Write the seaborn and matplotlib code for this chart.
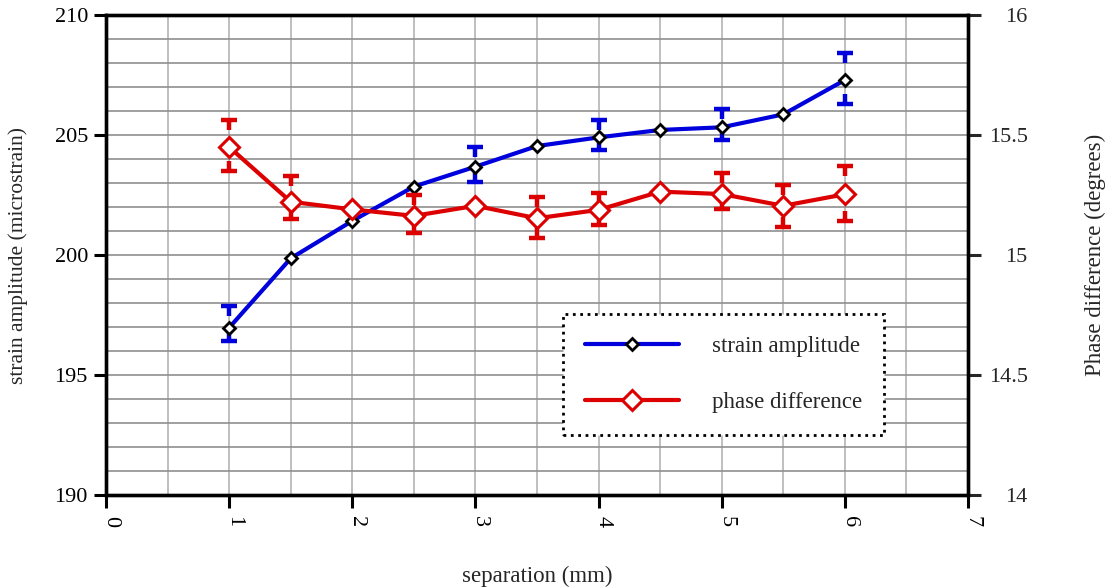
import numpy as np
import pandas as pd
import matplotlib
matplotlib.use("Agg")
import matplotlib.pyplot as plt
import seaborn as sns
from matplotlib.path import Path
from matplotlib.ticker import MultipleLocator, FuncFormatter

nan = np.nan
# ---- data ----
separation = [1.0, 1.5, 2.0, 2.5, 3.0, 3.5, 4.0, 4.5, 5.0, 5.5, 6.0]
strain = [196.97, 199.86, 201.42, 202.85, 203.68, 204.54, 204.90, 205.21, 205.32, 205.86, 207.29]
strain_upper = [197.86, nan, nan, nan, 204.49, nan, 205.63, nan, 206.07, nan, 208.40]
strain_lower = [196.43, nan, nan, nan, 203.05, nan, 204.38, nan, 204.79, nan, 206.28]
phase = [15.45, 15.222, 15.19, 15.163, 15.205, 15.153, 15.188, 15.264, 15.254, 15.205, 15.253]
phase_upper = [15.5625, 15.33, nan, 15.25, nan, 15.24, 15.26, nan, 15.34, 15.29, 15.37]
phase_lower = [15.35, 15.15, nan, 15.09, nan, 15.07, 15.125, nan, 15.19, 15.115, 15.14]
x_ticks = [0, 1, 2, 3, 4, 5, 6, 7]
left_ticks = [190, 195, 200, 205, 210]
right_ticks = [14, 14.5, 15, 15.5, 16]

df = pd.DataFrame({"separation": separation, "strain": strain, "phase": phase})

sns.set_theme(style="white")
plt.rcParams["font.family"] = ["Liberation Serif", "DejaVu Serif"]

BLUE = "#0000DD"
RED = "#DD0000"

fig = plt.figure(figsize=(11.14, 5.87), dpi=100)
ax = fig.add_axes([106 / 1114, 92 / 587, 862 / 1114, 480 / 587])
ax2 = ax.twinx()

ax.set_xlim(0, 7)
ax.set_ylim(190, 210)
ax2.set_ylim(14, 16)

# grid
ax.xaxis.set_major_locator(MultipleLocator(1))
ax.xaxis.set_minor_locator(MultipleLocator(0.5))
ax.yaxis.set_major_locator(MultipleLocator(5))
ax.yaxis.set_minor_locator(MultipleLocator(1))
ax.set_xticks(x_ticks)
ax.set_yticks(left_ticks)
ax2.set_yticks(right_ticks)
ax.grid(True, axis="x", which="both", color="#b4b4b4", linewidth=1.2, zorder=0)
ax.grid(True, axis="y", which="both", color="#8f8f8f", linewidth=1.2, zorder=0)
ax.set_axisbelow(True)
ax2.grid(False)

# main lines
sns.lineplot(data=df, x="separation", y="strain", ax=ax, color=BLUE, linewidth=3,
             marker="D", markersize=6.5, markerfacecolor="white", markeredgecolor="black",
             markeredgewidth=2, label="strain amplitude", legend=False, zorder=3)
sns.lineplot(data=df, x="separation", y="phase", ax=ax2, color=RED, linewidth=3,
             marker="D", markersize=10, markerfacecolor="white", markeredgecolor=RED,
             markeredgewidth=2.2, label="phase difference", legend=False, zorder=3)

# error bar caps (T shapes)
top_cap = Path([(-0.8, 0), (0.8, 0), (0, 0), (0, -1)],
               [Path.MOVETO, Path.LINETO, Path.MOVETO, Path.LINETO])
bot_cap = Path([(-0.8, 0), (0.8, 0), (0, 0), (0, 1)],
               [Path.MOVETO, Path.LINETO, Path.MOVETO, Path.LINETO])
for a, up, lo, c in [(ax, strain_upper, strain_lower, BLUE), (ax2, phase_upper, phase_lower, RED)]:
    a.plot(separation, up, linestyle="none", marker=top_cap, markersize=14,
           markeredgewidth=3.2, markeredgecolor=c, markerfacecolor="none", label="_nolegend_", zorder=2)
    a.plot(separation, lo, linestyle="none", marker=bot_cap, markersize=14,
           markeredgewidth=3.2, markeredgecolor=c, markerfacecolor="none", label="_nolegend_", zorder=2)

# spines
for a in (ax, ax2):
    for s in a.spines.values():
        s.set_linewidth(2.4)
        s.set_color("black")

fmt = FuncFormatter(lambda v, p: f"{v:g}")
ax.yaxis.set_major_formatter(fmt)
ax2.yaxis.set_major_formatter(fmt)
ax.xaxis.set_major_formatter(fmt)

ax.tick_params(axis="both", which="major", direction="out", length=9, width=2.2,
               labelsize=16, color="black", labelcolor="black")
ax.tick_params(axis="y", which="major", pad=4, left=True)
ax.tick_params(axis="x", which="major", pad=6, bottom=True)
ax.tick_params(axis="both", which="minor", length=0)
ax2.tick_params(axis="y", which="major", direction="out", length=9, width=2.2,
                labelsize=16, pad=34, right=True)
ax2.tick_params(axis="y", which="minor", length=0)
for lab in ax2.get_yticklabels():
    lab.set_horizontalalignment("right")
for lab in ax.get_xticklabels():
    lab.set_rotation(-90)
    lab.set_rotation_mode("anchor")
    lab.set_horizontalalignment("left")
    lab.set_verticalalignment("baseline")

ax.set_xlabel("separation (mm)", fontsize=16.5)
ax.set_ylabel("strain amplitude (microstrain)", fontsize=15.5)
ax2.set_ylabel("Phase difference (degrees)", fontsize=16.5)
ax.xaxis.set_label_coords(0.5, -0.147)
ax.yaxis.set_label_coords(-0.09, 0.5)
ax2.yaxis.set_label_coords(1.136, 0.5)

# legend
h1, l1 = ax.get_legend_handles_labels()
h2, l2 = ax2.get_legend_handles_labels()
leg = ax2.legend(h1 + h2, l1 + l2, loc="upper left", bbox_to_anchor=(0.530, 0.377),
                 borderaxespad=0, fontsize=16.5, handlelength=4.1, handletextpad=1.45,
                 labelspacing=1.55, borderpad=0.95, fancybox=False, framealpha=1,
                 edgecolor="black")
leg.get_frame().set_linestyle(":")
leg.get_frame().set_linewidth(2)
leg.set_zorder(10)

fig.savefig("out.png", dpi=100, facecolor="white")
